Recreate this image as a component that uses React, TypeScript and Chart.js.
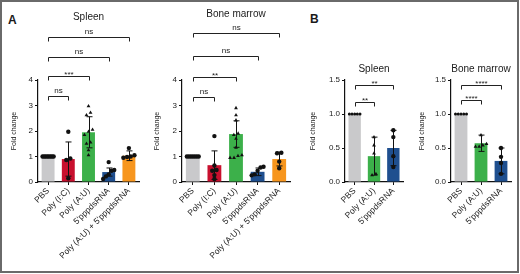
import React, { useEffect, useRef } from 'react';
import { Chart, registerables } from 'chart.js';

Chart.register(...registerables);

const FONT = "'Liberation Sans', Arial, Helvetica, sans-serif";
const INK = '#1a1a1a';

// ---------- categories & styling ----------
const groupsA = ['PBS', 'Poly (I:C)', 'Poly (A:U)', "5'pppdsRNA", "Poly (A:U) + 5'pppdsRNA"];
const groupsB = ['PBS', 'Poly (A:U)', "5'pppdsRNA"];
const colorsA = ['#c9c9cb', '#c8102e', '#3cb04a', '#1f4f8f', '#f7961e'];
const colorsB = ['#c9c9cb', '#3cb04a', '#1f4f8f'];
const markersA = ['circle', 'circle', 'triangle', 'circle', 'circle'];
const markersB = ['circle', 'triangle', 'circle'];

// ---------- tick labels ----------
const yTicksA = [0, 1, 2, 3, 4];
const yTicksB = [0, 0.5, 1.0, 1.5];

// ---------- Panel A : Spleen ----------
const spleenAMean = [1.0, 0.9, 1.95, 0.39, 1.03];
const spleenASD = [0, 0.67, 0.61, 0.16, 0.19];
const spleenAPBS = [1, 1, 1, 1, 1, 1, 1, 1];
const spleenAPolyIC = [1.97, 0.92, 0.86, 0.15];
const spleenAPolyAU = [2.97, 2.72, 2.62, 2.05, 1.97, 1.85, 1.55, 1.5, 1.25, 1.05];
const spleenAppp = [0.78, 0.47, 0.44, 0.3, 0.22, 0.12];
const spleenACombo = [1.33, 1.05, 1.0, 0.98, 0.95];
const spleenABracketTo = [1, 2, 3, 4];
const spleenABracketY = [3.37, 4.16, 4.9, 5.69];
const spleenABracketLabel = ['ns', '***', 'ns', 'ns'];

// ---------- Panel A : Bone marrow ----------
const marrowAMean = [1.0, 0.66, 1.88, 0.4, 0.9];
const marrowASD = [0, 0.56, 0.52, 0.15, 0.27];
const marrowAPBS = [1, 1, 1, 1, 1, 1, 1];
const marrowAPolyIC = [1.8, 0.65, 0.47, 0.44, 0.27, 0.12];
const marrowAPolyAU = [2.9, 2.62, 2.42, 1.9, 1.85, 1.7, 1.35, 1.05, 1.02, 0.95, 0.95];
const marrowAppp = [0.6, 0.57, 0.44, 0.3, 0.26];
const marrowACombo = [1.15, 1.13, 0.8, 0.54];
const marrowABracketTo = [1, 2, 3, 4];
const marrowABracketY = [3.33, 4.12, 4.94, 5.84];
const marrowABracketLabel = ['ns', '**', 'ns', 'ns'];

// ---------- Panel B : Spleen ----------
const spleenBMean = [1.0, 0.38, 0.5];
const spleenBSD = [0, 0.28, 0.26];
const spleenBPBS = [1, 1, 1, 1, 1];
const spleenBPolyAU = [0.66, 0.54, 0.42, 0.12, 0.1];
const spleenBppp = [0.76, 0.66, 0.38, 0.22];
const spleenBBracketTo = [1, 2];
const spleenBBracketY = [1.176, 1.426];
const spleenBBracketLabel = ['**', '**'];

// ---------- Panel B : Bone marrow ----------
const marrowBMean = [1.0, 0.57, 0.31];
const marrowBSD = [0, 0.12, 0.19];
const marrowBPBS = [1, 1, 1, 1, 1];
const marrowBPolyAU = [0.69, 0.56, 0.54, 0.52, 0.52];
const marrowBppp = [0.5, 0.37, 0.28, 0.12];
const marrowBBracketTo = [1, 2];
const marrowBBracketY = [1.206, 1.426];
const marrowBBracketLabel = ['****', '****'];

// horizontal layout of overlapping dots (category units), Prism-like
function spreadOffsets(vals: number[], tol: number, step: number, maxSpan: number) {
  const offs = new Array(vals.length).fill(0);
  const idx = vals.map((_, i) => i).sort((a, b) => vals[a] - vals[b]);
  const groups: number[][] = [];
  for (const i of idx) {
    const g = groups[groups.length - 1];
    if (g && Math.abs(vals[i] - vals[g[g.length - 1]]) < tol) g.push(i);
    else groups.push([i]);
  }
  for (const g of groups) {
    const s = g.length > 1 ? Math.min(step, maxSpan / (g.length - 1)) : 0;
    g.forEach((i, k) => {
      offs[i] = (k - (g.length - 1) / 2) * s;
    });
  }
  return offs;
}

type Props = {
  left: number;
  width: number;
  groups: string[];
  colors: string[];
  markers: string[];
  means: number[];
  sds: number[];
  points: number[][];
  bracketTo: number[];
  bracketY: number[];
  bracketLabel: string[];
  yTicks: number[];
  decimals: number;
  title: string;
  titleY: number;
  yAxisWidth: number;
  padRight: number;
  yTitlePad: number;
  tol: number;
  pbsRadius: number;
};

const H = 274;

function PrismChart(p: Props) {
  const ref = useRef<HTMLCanvasElement | null>(null);

  useEffect(() => {
    if (!ref.current) return;
    const n = p.groups.length;
    const scatter: { x: number; y: number }[] = [];
    const styles: string[] = [];
    const radii: number[] = [];
    p.points.forEach((vals, i) => {
      const offs = spreadOffsets(vals, p.tol, 0.2, 0.55);
      vals.forEach((v, j) => {
        scatter.push({ x: i + offs[j], y: v });
        styles.push(p.markers[i]);
        radii.push(i === 0 ? p.pbsRadius : 2.2);
      });
    });
    const bars = p.means.map((m, i) => ({ x: i, y: m }));
    const yMax = p.yTicks[p.yTicks.length - 1];

    const decor = {
      id: 'decor',
      afterDatasetDraw(chart: any, args: any) {
        if (args.index !== 0) return;
        const ctx = chart.ctx;
        const ys = chart.scales.y;
        ctx.save();
        ctx.strokeStyle = '#111';
        ctx.lineWidth = 1;
        args.meta.data.forEach((bar: any, i: number) => {
          const sd = p.sds[i];
          if (!sd) return;
          const m = p.means[i];
          const yt = ys.getPixelForValue(m + sd);
          const lo = m - sd;
          const yb = ys.getPixelForValue(Math.max(lo, 0));
          const cw = 3;
          const bx = Math.round(bar.x) + 0.5;
          ctx.beginPath();
          ctx.moveTo(bx, yt);
          ctx.lineTo(bx, yb);
          ctx.moveTo(bx - cw, yt);
          ctx.lineTo(bx + cw, yt);
          if (lo > 0) {
            ctx.moveTo(bx - cw, yb);
            ctx.lineTo(bx + cw, yb);
          }
          ctx.stroke();
        });
        ctx.restore();
      },
      afterDraw(chart: any) {
        const ctx = chart.ctx;
        const xs = chart.scales.x;
        const ys = chart.scales.y;
        const area = chart.chartArea;
        ctx.save();
        ctx.fillStyle = INK;
        ctx.font = `10px ${FONT}`;
        ctx.textAlign = 'center';
        ctx.textBaseline = 'alphabetic';
        ctx.fillText(p.title, (area.left + area.right) / 2, p.titleY);
        ctx.strokeStyle = '#222';
        ctx.lineWidth = 1;
        p.bracketTo.forEach((to, k) => {
          const x1 = Math.round(xs.getPixelForValue(0)) + 0.5;
          const x2 = Math.round(xs.getPixelForValue(to)) + 0.5;
          const y = Math.round(ys.getPixelForValue(p.bracketY[k])) + 0.5;
          ctx.beginPath();
          ctx.moveTo(x1, y + 4);
          ctx.lineTo(x1, y);
          ctx.lineTo(x2, y);
          ctx.lineTo(x2, y + 4);
          ctx.stroke();
          const lab = p.bracketLabel[k];
          ctx.font = `8px ${FONT}`;
          ctx.fillText(lab, (x1 + x2) / 2, lab === 'ns' ? y - 3.5 : y + 0.5);
        });
        ctx.restore();
      },
    };

    const chart = new Chart(ref.current, {
      type: 'bar',
      data: {
        datasets: [
          {
            type: 'bar',
            data: bars,
            backgroundColor: p.colors,
            borderWidth: 0,
            barPercentage: 0.64,
            categoryPercentage: 1,
            grouped: false,
            order: 1,
          } as any,
          {
            type: 'scatter',
            data: scatter,
            pointStyle: styles,
            pointRadius: radii,
            backgroundColor: '#111',
            borderColor: '#111',
            borderWidth: 0,
            order: 0,
            clip: false,
          } as any,
        ],
      },
      options: {
        animation: false,
        responsive: false,
        events: [],
        layout: { padding: { left: 0, right: p.padRight, top: 80, bottom: 12 } },
        plugins: { legend: { display: false }, tooltip: { enabled: false }, title: { display: false } },
        scales: {
          x: {
            type: 'linear',
            offset: false,
            min: -0.5,
            max: n - 0.5,
            afterBuildTicks: (s: any) => {
              s.ticks = p.groups.map((_, i) => ({ value: i }));
            },
            grid: { offset: false, drawOnChartArea: false, drawTicks: true, tickLength: 3, color: '#111', lineWidth: 1 },
            border: { display: true, color: '#111', width: 1.2 },
            ticks: {
              autoSkip: false,
              maxRotation: 45,
              minRotation: 45,
              padding: 1,
              color: '#222',
              font: { family: FONT, size: 8.5 },
              callback: (v: any) => p.groups[Math.round(Number(v))] ?? '',
            },
            afterFit: (s: any) => {
              s.height = 80;
            },
          },
          y: {
            type: 'linear',
            min: 0,
            max: yMax,
            afterBuildTicks: (s: any) => {
              s.ticks = p.yTicks.map((v) => ({ value: v }));
            },
            grid: { drawOnChartArea: false, drawTicks: true, tickLength: 3, color: '#111', lineWidth: 1 },
            border: { display: true, color: '#111', width: 1.2 },
            ticks: {
              padding: 2,
              color: '#222',
              font: { family: FONT, size: 8 },
              callback: (v: any) => Number(v).toFixed(p.decimals),
            },
            title: {
              display: true,
              text: 'Fold change',
              color: '#222',
              font: { family: FONT, size: 7 },
              padding: { top: p.yTitlePad, bottom: 0 },
            },
            afterFit: (s: any) => {
              s.width = p.yAxisWidth;
            },
          },
        },
      } as any,
      plugins: [decor],
    });
    return () => chart.destroy();
  }, []);

  return (
    <canvas
      ref={ref}
      width={p.width}
      height={H}
      style={{ position: 'absolute', left: p.left, top: 0, width: p.width, height: H }}
    />
  );
}

export default function App() {
  const panelLetter: React.CSSProperties = {
    position: 'absolute',
    fontFamily: FONT,
    fontWeight: 'bold',
    fontSize: 12,
    lineHeight: '12px',
    color: INK,
  };
  return (
    <div
      style={{
        position: 'fixed',
        left: 0,
        top: 0,
        width: 520,
        height: 274,
        background: '#fff',
        overflow: 'hidden',
      }}
    >
      <div
        style={{
          position: 'absolute',
          left: 0,
          top: 0,
          width: 519,
          height: 273,
          boxSizing: 'border-box',
          border: '2px solid #6a6a6a',
        }}
      />
      <div style={{ ...panelLetter, left: 8, top: 13.5 }}>A</div>
      <div style={{ ...panelLetter, left: 310, top: 12.5 }}>B</div>
      <PrismChart
        left={0}
        width={150}
        groups={groupsA}
        colors={colorsA}
        markers={markersA}
        means={spleenAMean}
        sds={spleenASD}
        points={[spleenAPBS, spleenAPolyIC, spleenAPolyAU, spleenAppp, spleenACombo]}
        bracketTo={spleenABracketTo}
        bracketY={spleenABracketY}
        bracketLabel={spleenABracketLabel}
        yTicks={yTicksA}
        decimals={0}
        title="Spleen"
        titleY={19.5}
        yAxisWidth={38}
        padRight={11}
        yTitlePad={10}
        tol={0.15}
        pbsRadius={2.2}
      />
      <PrismChart
        left={150}
        width={148}
        groups={groupsA}
        colors={colorsA}
        markers={markersA}
        means={marrowAMean}
        sds={marrowASD}
        points={[marrowAPBS, marrowAPolyIC, marrowAPolyAU, marrowAppp, marrowACombo]}
        bracketTo={marrowABracketTo}
        bracketY={marrowABracketY}
        bracketLabel={marrowABracketLabel}
        yTicks={yTicksA}
        decimals={0}
        title="Bone marrow"
        titleY={17}
        yAxisWidth={32}
        padRight={8}
        yTitlePad={3}
        tol={0.15}
        pbsRadius={2.2}
      />
      <PrismChart
        left={298}
        width={112}
        groups={groupsB}
        colors={colorsB}
        markers={markersB}
        means={spleenBMean}
        sds={spleenBSD}
        points={[spleenBPBS, spleenBPolyAU, spleenBppp]}
        bracketTo={spleenBBracketTo}
        bracketY={spleenBBracketY}
        bracketLabel={spleenBBracketLabel}
        yTicks={yTicksB}
        decimals={1}
        title="Spleen"
        titleY={72}
        yAxisWidth={47}
        padRight={7}
        yTitlePad={11}
        tol={0.06}
        pbsRadius={1.5}
      />
      <PrismChart
        left={410}
        width={108}
        groups={groupsB}
        colors={colorsB}
        markers={markersB}
        means={marrowBMean}
        sds={marrowBSD}
        points={[marrowBPBS, marrowBPolyAU, marrowBppp]}
        bracketTo={marrowBBracketTo}
        bracketY={marrowBBracketY}
        bracketLabel={marrowBBracketLabel}
        yTicks={yTicksB}
        decimals={1}
        title="Bone marrow"
        titleY={72}
        yAxisWidth={41}
        padRight={7}
        yTitlePad={8}
        tol={0.06}
        pbsRadius={1.5}
      />
    </div>
  );
}
